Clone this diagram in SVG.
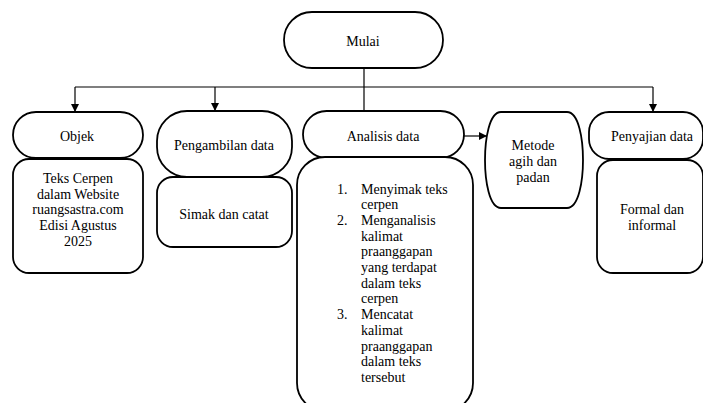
<svg xmlns="http://www.w3.org/2000/svg" width="703" height="403" viewBox="0 0 703 403">
<defs>
<marker id="ah" markerWidth="8" markerHeight="8" refX="7" refY="4" orient="auto" markerUnits="userSpaceOnUse">
<path d="M0,0 L8,4 L0,8 Z" fill="#000"/>
</marker>
<style>
.box{fill:#fff;stroke:#000;stroke-width:1.8}
.ln{fill:none;stroke:#000;stroke-width:1.2}
text{font-family:"Liberation Serif","Times New Roman",serif;font-size:14px;fill:#000}
.c{text-anchor:middle}
</style>
</defs>
<rect width="703" height="403" fill="#fff"/>
<g id="connectors">
<path class="ln" d="M364,68 V111"/>
<path class="ln" d="M75,87 H653"/>
<path class="ln" d="M75,87 V111" marker-end="url(#ah)"/>
<path class="ln" d="M215,87 V110" marker-end="url(#ah)"/>
<path class="ln" d="M653,87 V111" marker-end="url(#ah)"/>
<path class="ln" d="M464,136 H486" marker-end="url(#ah)"/>
</g>
<g id="mulai">
<rect class="box" x="284" y="12" width="159" height="56" rx="28"/>
<text class="c" x="363" y="45.5">Mulai</text>
</g>
<g id="objek">
<rect class="box" x="13" y="112" width="130" height="46" rx="23"/>
<text class="c" x="77" y="140.5">Objek</text>
</g>
<g id="objek-isi">
<rect class="box" x="13" y="159" width="130" height="114" rx="16"/>
<text class="c" x="78" y="182.5">Teks Cerpen</text>
<text class="c" x="78" y="198.5">dalam Website</text>
<text class="c" x="78" y="214">ruangsastra.com</text>
<text class="c" x="78" y="230">Edisi Agustus</text>
<text class="c" x="78" y="246">2025</text>
</g>
<g id="pengambilan">
<rect class="box" x="157" y="111" width="135" height="66" rx="30"/>
<text class="c" x="224" y="149.5">Pengambilan data</text>
</g>
<g id="simak">
<rect class="box" x="157" y="177" width="135" height="70" rx="16"/>
<text class="c" x="224" y="218.5">Simak dan catat</text>
</g>
<g id="analisis">
<rect class="box" x="303" y="111" width="161" height="47" rx="23.5"/>
<text class="c" x="383" y="140.5">Analisis data</text>
</g>
<g id="analisis-isi">
<rect class="box" x="297" y="157" width="176" height="254" rx="28"/>
<text x="337" y="193.5">1.</text>
<text x="361" y="193.5">Menyimak teks</text>
<text x="361" y="209.2">cerpen</text>
<text x="337" y="224.9">2.</text>
<text x="361" y="224.9">Menganalisis</text>
<text x="361" y="240.6">kalimat</text>
<text x="361" y="256.3">praanggapan</text>
<text x="361" y="272">yang terdapat</text>
<text x="361" y="287.7">dalam teks</text>
<text x="361" y="303.4">cerpen</text>
<text x="337" y="319.1">3.</text>
<text x="361" y="319.1">Mencatat</text>
<text x="361" y="334.8">kalimat</text>
<text x="361" y="350.5">praanggapan</text>
<text x="361" y="366.2">dalam teks</text>
<text x="361" y="381.9">tersebut</text>
</g>
<g id="metode">
<path class="box" d="M501,112 L567,112 C579,112 583,140 583,160 C583,180 579,208 567,208 L501,208 C489,208 485,180 485,160 C485,140 489,112 501,112 Z"/>
<text class="c" x="533" y="149.5">Metode</text>
<text class="c" x="533" y="165.5">agih dan</text>
<text class="c" x="533" y="181.5">padan</text>
</g>
<g id="penyajian">
<rect class="box" x="589" y="112" width="114" height="47" rx="20"/>
<text class="c" x="652" y="140.5">Penyajian data</text>
</g>
<g id="formal">
<rect class="box" x="597" y="160" width="106" height="113" rx="16"/>
<text class="c" x="652" y="213.5">Formal dan</text>
<text class="c" x="652" y="229.5">informal</text>
</g>
</svg>
